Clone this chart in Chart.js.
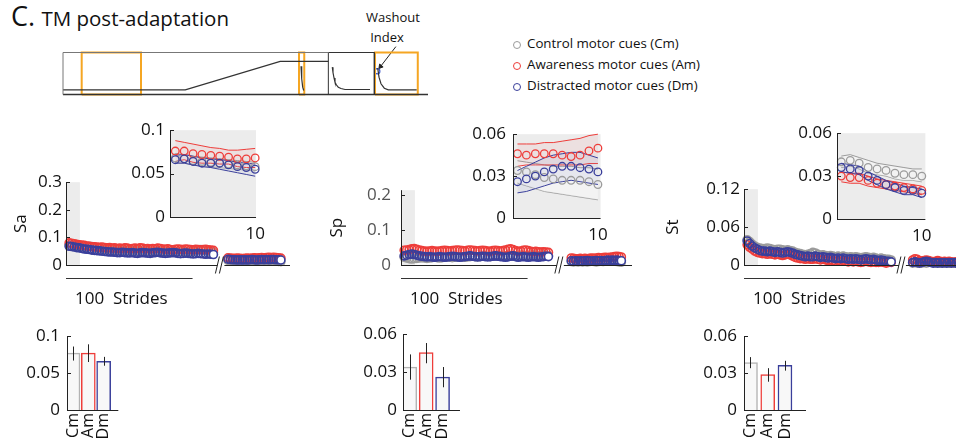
<!DOCTYPE html>
<html lang="en">
<head>
<meta charset="UTF-8" />
<title>TM post-adaptation</title>
<script src="https://cdn.jsdelivr.net/npm/chart.js"></script>
<style>
  body { margin: 0; background: #fff; font-family: "Open Sans", sans-serif; color: #111; }
  #fig { position: relative; width: 956px; height: 443px; overflow: hidden; }
  .box { position: absolute; }
  #title { position: absolute; left: 11px; top: -3px; font-size: 20.5px; white-space: nowrap; }
  #title .big { font-size: 27px; margin-right: 1px; }
  .note { position: absolute; font-size: 13px; text-align: center; width: 70px; }
  #legend { position: absolute; left: 513px; top: 33px; font-size: 13.3px; line-height: 21px; }
  #legend div { white-space: nowrap; }
  #legend i { display: inline-block; width: 6px; height: 6px; border: 1.4px solid; border-radius: 50%; margin-right: 6px; vertical-align: -1px; }
</style>
</head>
<body>
<div id="fig">
  <div id="title"><span class="big">C.</span> TM post-adaptation</div>
  <div class="note" style="left:358px; top:8px;">Washout</div>
  <div class="note" style="left:352px; top:28px;">Index</div>
  <div id="legend"></div>

  <div class="box" id="b-schem"><canvas id="schem"></canvas></div>
  <div class="box" id="b-saMain"><canvas id="saMain"></canvas></div>
  <div class="box" id="b-spMain"><canvas id="spMain"></canvas></div>
  <div class="box" id="b-stMain"><canvas id="stMain"></canvas></div>
  <div class="box" id="b-saIn"><canvas id="saIn"></canvas></div>
  <div class="box" id="b-spIn"><canvas id="spIn"></canvas></div>
  <div class="box" id="b-stIn"><canvas id="stIn"></canvas></div>
  <div class="box" id="b-saBar"><canvas id="saBar"></canvas></div>
  <div class="box" id="b-spBar"><canvas id="spBar"></canvas></div>
  <div class="box" id="b-stBar"><canvas id="stBar"></canvas></div>
</div>

<script>
  // ---------------- data ----------------
  const groups = ["Cm", "Am", "Dm"];
  const legendLabels = ["Control motor cues (Cm)", "Awareness motor cues (Am)", "Distracted motor cues (Dm)"];

  // main panels: one value every 2 strides (early post-adaptation), then the late segment
  const saGrey1 = [0.072,0.071,0.069,0.068,0.066,0.065,0.064,0.066,0.068,0.067, 0.064,0.062,0.060,0.058,0.057,0.056,0.055,0.054,0.053,0.054, 0.053,0.052,0.053,0.052,0.051,0.052,0.053,0.052,0.051,0.050, 0.051,0.052,0.050,0.049,0.050,0.051,0.050,0.049,0.048,0.049, 0.050,0.049,0.048,0.049,0.050,0.049,0.048,0.047,0.048,0.049, 0.052,0.055,0.056,0.054,0.052,0.050,0.048,0.046];
  const saRed1  = [0.080,0.079,0.077,0.075,0.073,0.072,0.071,0.069,0.068,0.066, 0.066,0.065,0.064,0.065,0.063,0.062,0.063,0.061,0.062,0.060, 0.061,0.060,0.062,0.061,0.059,0.060,0.061,0.060,0.062,0.061, 0.059,0.060,0.058,0.060,0.059,0.061,0.060,0.058,0.057,0.059, 0.056,0.055,0.057,0.058,0.057,0.056,0.058,0.057,0.056,0.055, 0.057,0.056,0.055,0.056,0.057,0.055,0.054,0.053];
  const saBlue1 = [0.068,0.067,0.065,0.063,0.062,0.060,0.058,0.057,0.056,0.054, 0.053,0.052,0.051,0.050,0.049,0.048,0.047,0.047,0.046,0.045, 0.045,0.046,0.045,0.044,0.044,0.045,0.043,0.042,0.044,0.045, 0.044,0.043,0.042,0.044,0.045,0.046,0.044,0.043,0.042,0.043, 0.044,0.045,0.044,0.042,0.041,0.042,0.043,0.042,0.041,0.040, 0.041,0.042,0.041,0.040,0.039,0.040,0.039,0.038];
  const saGrey2 = [0.017,0.016,0.016,0.015,0.016,0.015,0.016,0.015,0.016,0.015,0.016,0.015,0.016,0.015,0.016,0.017,0.016,0.015,0.014,0.015,0.014,0.013,0.012];
  const saRed2  = [0.026,0.025,0.024,0.024,0.025,0.024,0.023,0.024,0.025,0.024,0.025,0.026,0.025,0.026,0.027,0.026,0.027,0.028,0.027,0.028,0.027,0.026,0.025];
  const saBlue2 = [0.021,0.020,0.019,0.019,0.018,0.019,0.018,0.019,0.018,0.019,0.020,0.019,0.018,0.019,0.020,0.019,0.020,0.019,0.020,0.020,0.019,0.019,0.018];

  const spGrey1 = [0.022,0.020,0.018,0.017,0.018,0.019,0.020,0.021,0.020,0.019, 0.020,0.021,0.022,0.021,0.020,0.021,0.022,0.023,0.022,0.021, 0.022,0.023,0.024,0.023,0.022,0.023,0.024,0.025,0.024,0.023, 0.024,0.025,0.026,0.025,0.024,0.025,0.026,0.027,0.026,0.025, 0.026,0.027,0.026,0.025,0.026,0.027,0.028,0.027,0.026,0.027, 0.028,0.029,0.028,0.027,0.028,0.029,0.028,0.027];
  const spRed1  = [0.042,0.043,0.044,0.046,0.047,0.045,0.043,0.041,0.040,0.039, 0.040,0.041,0.040,0.039,0.040,0.041,0.042,0.041,0.040,0.041, 0.042,0.043,0.042,0.041,0.040,0.042,0.043,0.042,0.041,0.040, 0.041,0.042,0.041,0.040,0.039,0.041,0.042,0.041,0.040,0.041, 0.043,0.045,0.046,0.044,0.041,0.039,0.040,0.042,0.043,0.041, 0.039,0.038,0.039,0.038,0.037,0.038,0.037,0.036];
  const spBlue1 = [0.026,0.028,0.030,0.031,0.030,0.028,0.026,0.025,0.024,0.023, 0.024,0.023,0.022,0.023,0.024,0.023,0.022,0.023,0.024,0.025, 0.024,0.023,0.022,0.023,0.024,0.025,0.026,0.025,0.024,0.023, 0.024,0.025,0.024,0.023,0.024,0.025,0.026,0.025,0.024,0.023, 0.022,0.023,0.025,0.026,0.024,0.022,0.023,0.024,0.023,0.022, 0.023,0.024,0.023,0.022,0.023,0.024,0.025,0.024];
  const spGrey2 = [0.010,0.009,0.010,0.009,0.010,0.009,0.010,0.009,0.010,0.011,0.010,0.009,0.010,0.011,0.010,0.011,0.012,0.011,0.012,0.011,0.010,0.009,0.008];
  const spRed2  = [0.020,0.019,0.018,0.018,0.019,0.018,0.019,0.018,0.019,0.020,0.019,0.020,0.021,0.020,0.021,0.022,0.021,0.022,0.023,0.024,0.025,0.024,0.023];
  const spBlue2 = [0.012,0.011,0.012,0.011,0.012,0.011,0.012,0.013,0.012,0.011,0.012,0.013,0.012,0.013,0.012,0.013,0.014,0.013,0.014,0.013,0.014,0.013,0.012];

  const stGrey1 = [0.040,0.037,0.033,0.030,0.028,0.027,0.026,0.026,0.027,0.026, 0.025,0.024,0.025,0.025,0.024,0.023,0.024,0.023,0.022,0.020, 0.019,0.018,0.017,0.016,0.017,0.018,0.020,0.019,0.017,0.015, 0.016,0.015,0.014,0.015,0.014,0.013,0.014,0.013,0.014,0.013, 0.012,0.013,0.012,0.013,0.012,0.011,0.012,0.013,0.012,0.011, 0.012,0.011,0.010,0.011,0.010,0.009,0.009,0.008];
  const stRed1  = [0.032,0.028,0.025,0.022,0.020,0.019,0.018,0.018,0.017,0.018, 0.017,0.016,0.017,0.016,0.015,0.016,0.017,0.016,0.014,0.012, 0.011,0.010,0.010,0.009,0.010,0.009,0.009,0.010,0.009,0.008, 0.009,0.008,0.007,0.008,0.007,0.006,0.007,0.006,0.007,0.006, 0.005,0.006,0.005,0.006,0.005,0.004,0.005,0.006,0.005,0.004, 0.005,0.004,0.004,0.005,0.004,0.003,0.004,0.004];
  const stBlue1 = [0.038,0.034,0.030,0.027,0.025,0.023,0.022,0.022,0.021,0.022, 0.021,0.020,0.021,0.020,0.019,0.020,0.021,0.020,0.019,0.017, 0.016,0.015,0.014,0.013,0.014,0.013,0.013,0.014,0.013,0.012, 0.013,0.012,0.011,0.012,0.011,0.010,0.011,0.010,0.011,0.010, 0.009,0.010,0.009,0.010,0.009,0.008,0.009,0.010,0.009,0.008, 0.009,0.008,0.007,0.008,0.007,0.006,0.006,0.005];
  const stGrey2 = [0.003,0.004,0.003,0.004,0.003,0.004,0.003,0.004,0.005,0.004,0.003,0.004,0.003,0.004,0.003,0.004,0.003,0.004,0.003,0.004,0.003,0.004,0.003];
  const stRed2  = [0.008,0.010,0.009,0.007,0.006,0.007,0.008,0.007,0.006,0.005,0.006,0.007,0.006,0.005,0.006,0.005,0.006,0.005,0.004,0.005,0.004,0.005,0.004];
  const stBlue2 = [0.004,0.005,0.004,0.003,0.004,0.005,0.006,0.005,0.004,0.003,0.004,0.003,0.004,0.003,0.004,0.003,0.004,0.003,0.004,0.003,0.004,0.003,0.003];

  // insets: first 10 strides, mean and mean +/- SE
  const strides10 = [1,2,3,4,5,6,7,8,9,10];
  const saInGrey = [0.068,0.067,0.065,0.064,0.063,0.062,0.061,0.060,0.059,0.058];
  const saInGreyUp = [0.073,0.072,0.070,0.069,0.068,0.067,0.066,0.065,0.064,0.063];
  const saInGreyLo = [0.063,0.062,0.060,0.059,0.058,0.057,0.056,0.055,0.054,0.053];
  const saInRed = [0.076,0.076,0.073,0.072,0.071,0.070,0.069,0.067,0.067,0.068];
  const saInRedUp = [0.088,0.086,0.084,0.082,0.080,0.079,0.077,0.077,0.078,0.079];
  const saInRedLo = [0.064,0.066,0.063,0.062,0.062,0.061,0.061,0.058,0.057,0.057];
  const saInBlue = [0.066,0.067,0.064,0.062,0.062,0.062,0.060,0.058,0.057,0.055];
  const saInBlueUp = [0.071,0.072,0.070,0.068,0.067,0.066,0.065,0.063,0.062,0.061];
  const saInBlueLo = [0.062,0.062,0.060,0.058,0.057,0.055,0.053,0.051,0.049,0.047];

  const spInGrey = [0.034,0.033,0.031,0.029,0.028,0.027,0.027,0.027,0.026,0.024];
  const spInGreyUp = [0.041,0.040,0.039,0.038,0.037,0.037,0.037,0.036,0.036,0.035];
  const spInGreyLo = [0.025,0.023,0.021,0.019,0.018,0.017,0.016,0.015,0.014,0.013];
  const spInRed = [0.046,0.045,0.046,0.046,0.046,0.045,0.044,0.045,0.048,0.050];
  const spInRedUp = [0.053,0.053,0.053,0.054,0.054,0.055,0.056,0.057,0.059,0.060];
  const spInRedLo = [0.037,0.038,0.038,0.038,0.038,0.038,0.038,0.038,0.039,0.039];
  const spInBlue = [0.026,0.028,0.030,0.033,0.035,0.037,0.037,0.036,0.035,0.033];
  const spInBlueUp = [0.034,0.037,0.040,0.043,0.045,0.046,0.047,0.047,0.045,0.043];
  const spInBlueLo = [0.018,0.019,0.021,0.023,0.025,0.026,0.027,0.026,0.025,0.024];

  const stInGrey = [0.040,0.041,0.039,0.036,0.035,0.034,0.032,0.031,0.031,0.030];
  const stInGreyUp = [0.044,0.045,0.043,0.041,0.039,0.038,0.037,0.036,0.035,0.035];
  const stInGreyLo = [0.036,0.037,0.035,0.032,0.031,0.030,0.028,0.027,0.027,0.026];
  const stInRed = [0.030,0.029,0.029,0.027,0.025,0.024,0.023,0.022,0.021,0.020];
  const stInRedUp = [0.033,0.032,0.032,0.030,0.028,0.027,0.026,0.025,0.024,0.023];
  const stInRedLo = [0.026,0.025,0.025,0.023,0.022,0.021,0.020,0.019,0.018,0.017];
  const stInBlue = [0.036,0.035,0.034,0.030,0.027,0.024,0.022,0.020,0.020,0.018];
  const stInBlueUp = [0.039,0.038,0.037,0.033,0.030,0.027,0.025,0.023,0.022,0.021];
  const stInBlueLo = [0.033,0.032,0.031,0.027,0.024,0.021,0.019,0.017,0.017,0.015];

  // washout index bars (Cm, Am, Dm) with SE
  const saBar = [0.077, 0.077, 0.066];
  const saErrLo = [0.067, 0.065, 0.060];
  const saErrHi = [0.086, 0.089, 0.072];
  const spBar = [0.034, 0.0455, 0.026];
  const spErrLo = [0.024, 0.037, 0.018];
  const spErrHi = [0.044, 0.053, 0.034];
  const stBar = [0.0385, 0.0288, 0.0363];
  const stErrLo = [0.034, 0.023, 0.032];
  const stErrHi = [0.043, 0.034, 0.040];

  // tick values
  const saTicks = [0, 0.1, 0.2, 0.3];
  const spTicks = [0, 0.1, 0.2];
  const stTicks = [0, 0.06, 0.12];
  const saInTicks = [0, 0.05, 0.1];
  const spInTicks = [0, 0.03, 0.06];
  const stInTicks = [0, 0.03, 0.06];
  const insetXTicks = [10];
  const saBarTicks = [0, 0.05, 0.1];
  const spBarTicks = [0, 0.03, 0.06];
  const stBarTicks = [0, 0.03, 0.06];

  // protocol schematic (time 0-100, treadmill speed 0-1)
  const profileT = [0, 33.5, 59.5, 72.7];
  const profileV = [0.11, 0.11, 0.79, 0.79];
  const decayAT = [65.21, 65.40, 65.67, 65.95];
  const decayAV = [0.674, 0.374, 0.174, 0.095];
  const decayBT = [73.78, 73.97, 74.25, 74.52, 74.93, 75.42, 76.16, 77.26, 84.11];
  const decayBV = [0.65, 0.524, 0.393, 0.293, 0.226, 0.174, 0.143, 0.119, 0.119];
  const decayCT = [86.22, 86.58, 87.12, 88.03, 89.12, 96.9];
  const decayCV = [0.626, 0.412, 0.255, 0.15, 0.112, 0.112];
  const windows = [[5.12, 21.37], [64.66, 66.1], [85.48, 97.2]];
  const washoutMark = [86.1, 0.555];

  // ---------------- styling ----------------
  const GREY = "#9b9b9b", RED = "#ee3d3a", BLUE = "#3a3f9b";
  const ORANGE = "#f5a623";
  Chart.defaults.font.family = "'Open Sans', sans-serif";
  Chart.defaults.color = "#111";
  Chart.defaults.animation = false;
  Chart.defaults.events = [];
  Chart.defaults.plugins.legend.display = false;
  Chart.defaults.plugins.tooltip.enabled = false;

  document.getElementById("legend").innerHTML = legendLabels
    .map((t, i) => `<div><i style="border-color:${[GREY, RED, BLUE][i]}"></i>${t}</div>`).join("");

  // positions a chart box so that the plot area lands at (left, top)
  function place(id, p) {
    const el = document.getElementById("b-" + id);
    el.style.left = (p.left - p.axisW) + "px";
    el.style.top = (p.top - p.padT) + "px";
    el.style.width = (p.axisW + p.w + p.padR) + "px";
    el.style.height = (p.padT + p.h + (p.xH || 0) + p.padB) + "px";
  }

  // matlab-like axes, shading, breaks, scale bar, error bars
  const deco = {
    id: "deco",
    beforeDatasetsDraw(chart, args, o) {
      const { ctx, chartArea: a, scales: { x } } = chart;
      ctx.save();
      ctx.fillStyle = "#ececec";
      if (o.shadeAll) ctx.fillRect(a.left, a.top, a.right - a.left, a.bottom - a.top);
      if (o.shadeTo) ctx.fillRect(a.left, a.top, x.getPixelForValue(o.shadeTo) - a.left, a.bottom - a.top);
      ctx.restore();
    },
    afterDatasetsDraw(chart, args, o) {
      if (o.none) return;
      const { ctx, chartArea: a, scales: { x, y } } = chart;
      const ln = (x0, y0, x1, y1) => { ctx.beginPath(); ctx.moveTo(x0, y0); ctx.lineTo(x1, y1); ctx.stroke(); };
      ctx.save();
      ctx.strokeStyle = o.axisColor || "#222";
      ctx.lineWidth = 1;
      ln(a.left + 0.5, a.bottom, a.left + 0.5, a.top);
      const yb = Math.round(a.bottom) + 0.5;
      if (o.breakAt) {
        const b = x.getPixelForValue(o.breakAt);
        ln(a.left, yb, b - 3, yb);
        ln(b + 4, yb, a.right, yb);
        ln(b - 5, yb + 8, b - 1, yb - 9);
        ln(b - 1, yb + 8, b + 3, yb - 9);
      } else {
        ln(a.left, yb, a.right, yb);
      }
      y.ticks.forEach(t => {
        const py = Math.round(y.getPixelForValue(t.value)) + 0.5;
        ln(a.left, py, a.left + 4, py);
      });
      if (o.scaleBar) {
        const x0 = x.getPixelForValue(o.scaleBar[0]), x1 = x.getPixelForValue(o.scaleBar[1]);
        ctx.strokeStyle = "#333";
        ln(x0, yb + 13, x1, yb + 13);
        ctx.fillStyle = "#111";
        ctx.font = "17px 'Open Sans', sans-serif";
        ctx.fillText(o.scaleLabel, x0 + 9, yb + 38);
      }
      if (o.errLo) {
        ctx.strokeStyle = "#222";
        o.errLo.forEach((lo, i) => {
          const px = Math.round(x.getPixelForValue(i + 1)) + 0.5;
          ln(px, y.getPixelForValue(lo), px, y.getPixelForValue(o.errHi[i]));
        });
      }
      ctx.restore();
    }
  };

  const yAxis = (ticks, p, extra) => Object.assign({
    min: ticks[0], max: p.ymax,
    afterFit: s => { s.width = p.axisW; },
    afterBuildTicks: s => { s.ticks = ticks.map(v => ({ value: v })); },
    grid: { display: false, drawTicks: false },
    border: { display: false },
    ticks: { font: { size: 17 }, padding: p.tickPad, callback: v => String(v) }
  }, extra || {});

  // ---------- main panels ----------
  function ring(col, data, ends) {
    return {
      data, showLine: false, clip: false,
      pointRadius: 4, pointBorderWidth: 1.6, pointBorderColor: col,
      pointBackgroundColor: ends ? data.map((_, i) => ends.includes(i) ? "#fff" : "rgba(0,0,0,0)") : "rgba(0,0,0,0)"
    };
  }

  function mainChart(id, p, label, ticks, grey1, red1, blue1, grey2, red2, blue2, tickColor) {
    place(id, p);
    const pts = (s1, s2) => s1.map((v, i) => ({ x: p.x1 + i * 2, y: v }))
      .concat(s2.map((v, i) => ({ x: p.x2 + i * p.step2, y: v })));
    const ends = [blue1.length - 1, blue1.length + blue2.length - 1];
    new Chart(document.getElementById(id), {
      type: "scatter",
      data: { datasets: [ring(BLUE, pts(blue1, blue2), ends), ring(RED, pts(red1, red2)), ring(GREY, pts(grey1, grey2))] },
      options: {
        responsive: true, maintainAspectRatio: false,
        layout: { autoPadding: false, padding: { left: 0, top: p.padT, right: p.padR, bottom: p.padB } },
        scales: {
          x: { type: "linear", display: false, min: 0, max: p.xmax },
          y: yAxis(ticks, p, {
            title: { display: true, text: label, font: { size: 17 }, padding: { top: 0, bottom: 0 }, color: "#111" },
            ticks: { font: { size: 17 }, padding: p.tickPad, color: tickColor || "#111", callback: v => String(v) }
          })
        },
        plugins: { deco: { shadeTo: 11, breakAt: p.breakAt, scaleBar: [0, 100], scaleLabel: "100  Strides" } }
      },
      plugins: [deco]
    });
  }

  mainChart("saMain", { left: 66, top: 180, w: 224, h: 85, axisW: 55, padT: 12, padR: 6, padB: 45, tickPad: 4,
    ymax: 0.3, xmax: 177, x1: 2.5, x2: 128, step2: 1.9, breakAt: 122 },
    "Sa", saTicks, saGrey1, saRed1, saBlue1, saGrey2, saRed2, saBlue2);
  mainChart("spMain", { left: 401, top: 182, w: 231, h: 83, axisW: 74, padT: 12, padR: 6, padB: 45, tickPad: 10,
    ymax: 0.214, xmax: 182.5, x1: 2.5, x2: 134.5, step2: 1.8, breakAt: 125.5 },
    "Sp", spTicks, spGrey1, spRed1, spBlue1, spGrey2, spRed2, spBlue2, "#555");
  mainChart("stMain", { left: 744, top: 187, w: 259, h: 78, axisW: 81, padT: 12, padR: 6, padB: 45, tickPad: 4,
    ymax: 0.12, xmax: 205, x1: 2.5, x2: 133.5, step2: 1.8, breakAt: 125 },
    "St", stTicks, stGrey1, stRed1, stBlue1, stGrey2, stRed2, stBlue2);

  // ---------- insets ----------
  function insetChart(id, p, ticks, grey, greyUp, greyLo, red, redUp, redLo, blue, blueUp, blueLo) {
    place(id, p);
    const xy = a => a.map((v, i) => ({ x: strides10[i], y: v }));
    const circ = (col, a) => ({ data: xy(a), showLine: false, clip: false, pointRadius: 3.8, pointBorderWidth: 1.3,
      pointBorderColor: col, pointBackgroundColor: "rgba(0,0,0,0)" });
    const band = (col, fillCol, up, lo) => [
      { data: xy(up), borderColor: col, borderWidth: 1, pointRadius: 0, fill: "+1", backgroundColor: fillCol, clip: false },
      { data: xy(lo), borderColor: col, borderWidth: 1, pointRadius: 0, fill: false, clip: false }
    ];
    new Chart(document.getElementById(id), {
      type: "line",
      data: {
        datasets: [circ(BLUE, blue), circ(RED, red), circ(GREY, grey)]
          .concat(band(BLUE, "rgba(120,124,200,0.10)", blueUp, blueLo))
          .concat(band(RED, "rgba(240,120,120,0.10)", redUp, redLo))
          .concat(band(GREY, "rgba(255,255,255,0.40)", greyUp, greyLo))
      },
      options: {
        responsive: true, maintainAspectRatio: false,
        layout: { autoPadding: false, padding: { left: 0, top: p.padT, right: p.padR, bottom: p.padB } },
        scales: {
          x: {
            type: "linear", min: p.xmin, max: p.xmax,
            afterFit: s => { s.height = p.xH; },
            afterBuildTicks: s => { s.ticks = insetXTicks.map(v => ({ value: v })); },
            grid: { display: false, drawTicks: false }, border: { display: false },
            ticks: { font: { size: 17 }, padding: 7, maxRotation: 0 }
          },
          y: yAxis(ticks, p)
        },
        plugins: { deco: { shadeAll: true } }
      },
      plugins: [deco]
    });
  }

  insetChart("saIn", { left: 170, top: 127, w: 90, h: 90, axisW: 52, padT: 12, padR: 12, padB: 0, xH: 30, tickPad: 5,
    ymax: 0.1, xmin: 0.4, xmax: 10.1 }, saInTicks,
    saInGrey, saInGreyUp, saInGreyLo, saInRed, saInRedUp, saInRedLo, saInBlue, saInBlueUp, saInBlueLo);
  insetChart("spIn", { left: 513, top: 129, w: 90, h: 89, axisW: 52, padT: 12, padR: 12, padB: 0, xH: 30, tickPad: 7,
    ymax: 0.06, xmin: 0.5, xmax: 10.3 }, spInTicks,
    spInGrey, spInGreyUp, spInGreyLo, spInRed, spInRedUp, spInRedLo, spInBlue, spInBlueUp, spInBlueLo);
  insetChart("stIn", { left: 837, top: 130, w: 90, h: 89, axisW: 52, padT: 12, padR: 12, padB: 0, xH: 30, tickPad: 5,
    ymax: 0.06, xmin: 0.52, xmax: 10.4 }, stInTicks,
    stInGrey, stInGreyUp, stInGreyLo, stInRed, stInRedUp, stInRedLo, stInBlue, stInBlueUp, stInBlueLo);

  // ---------- bars ----------
  function barChart(id, p, ticks, vals, lo, hi) {
    place(id, p);
    new Chart(document.getElementById(id), {
      type: "bar",
      data: {
        datasets: [{
          data: vals.map((v, i) => ({ x: i + 1, y: v })),
          backgroundColor: "#f8f8f8",
          borderColor: ["#b3b3b3", RED, BLUE],
          borderWidth: 1.5,
          barThickness: 14
        }]
      },
      options: {
        responsive: true, maintainAspectRatio: false,
        layout: { autoPadding: false, padding: { left: 0, top: p.padT, right: p.padR, bottom: p.padB } },
        scales: {
          x: {
            type: "linear", min: p.xmin, max: p.xmax, offset: false,
            afterFit: s => { s.height = p.xH; },
            afterBuildTicks: s => { s.ticks = groups.map((g, i) => ({ value: i + 1 })); },
            grid: { display: false, drawTicks: false }, border: { display: false },
            ticks: { font: { size: 16 }, padding: 3, minRotation: 90, maxRotation: 90, autoSkip: false,
              callback: v => groups[v - 1] }
          },
          y: yAxis(ticks, p)
        },
        plugins: { deco: { errLo: lo, errHi: hi } }
      },
      plugins: [deco]
    });
  }

  barChart("saBar", { left: 67, top: 331, w: 56, h: 79, axisW: 60, padT: 12, padR: 4, padB: 0, xH: 33, tickPad: 7,
    ymax: 0.1, xmin: 0.612, xmax: 3.955 }, saBarTicks, saBar, saErrLo, saErrHi);
  barChart("spBar", { left: 403, top: 330, w: 59, h: 80, axisW: 60, padT: 12, padR: 4, padB: 0, xH: 33, tickPad: 6,
    ymax: 0.06, xmin: 0.588, xmax: 4.06 }, spBarTicks, spBar, spErrLo, spErrHi);
  barChart("stBar", { left: 744, top: 331, w: 62, h: 79, axisW: 60, padT: 12, padR: 4, padB: 0, xH: 33, tickPad: 7,
    ymax: 0.06, xmin: 0.623, xmax: 4.22 }, stBarTicks, stBar, stErrLo, stErrHi);

  // ---------- protocol schematic ----------
  (function () {
    const el = document.getElementById("b-schem");
    el.style.left = "59px"; el.style.top = "37.5px"; el.style.width = "373px"; el.style.height = "60.5px";
    const path = (ts, vs) => ts.map((t, i) => ({ x: t, y: vs[i] }));
    const seg = (data, col, w) => ({ data, borderColor: col, borderWidth: w, pointRadius: 0, showLine: true, clip: false });
    const sets = [
      seg(path([0, 0, 72.7], [0, 1, 1]), "#777", 1),
      seg(path([72.7, 72.7, 85.3, 85.3], [0, 1, 1, 0]), "#333", 1),
      seg(path(profileT, profileV), "#333", 1.3),
      seg(path(decayAT, decayAV), "#333", 1.2),
      seg(path(decayBT, decayBV), "#333", 1.2),
      seg(path(decayCT, decayCV), "#333", 1.2),
      seg(path([0, 100], [0, 0]), "#333", 1.4)
    ];
    windows.forEach(w => sets.push(seg(path([w[0], w[0], w[1], w[1], w[0]], [0, 1, 1, 0, 0]), ORANGE, 2)));
    sets.push({ data: [{ x: washoutMark[0], y: washoutMark[1] }], showLine: false, clip: false,
      pointRadius: 2.6, pointBorderWidth: 1.2, pointBorderColor: "#3a55c8", pointBackgroundColor: "rgba(0,0,0,0)" });
    sets.push({ data: path([91.2, 87.0], [1.14, 0.667]), borderColor: "#222", borderWidth: 1, showLine: true, clip: false,
      pointRadius: [0, 2.6], pointStyle: "triangle", pointRotation: 219, pointBackgroundColor: "#222", pointBorderColor: "#222" });
    new Chart(document.getElementById("schem"), {
      type: "scatter",
      data: { datasets: sets },
      options: {
        responsive: true, maintainAspectRatio: false,
        layout: { autoPadding: false, padding: 4 },
        scales: { x: { display: false, min: 0, max: 100 }, y: { display: false, min: 0, max: 1.25 } }
      }
    });
  })();
</script>
</body>
</html>
